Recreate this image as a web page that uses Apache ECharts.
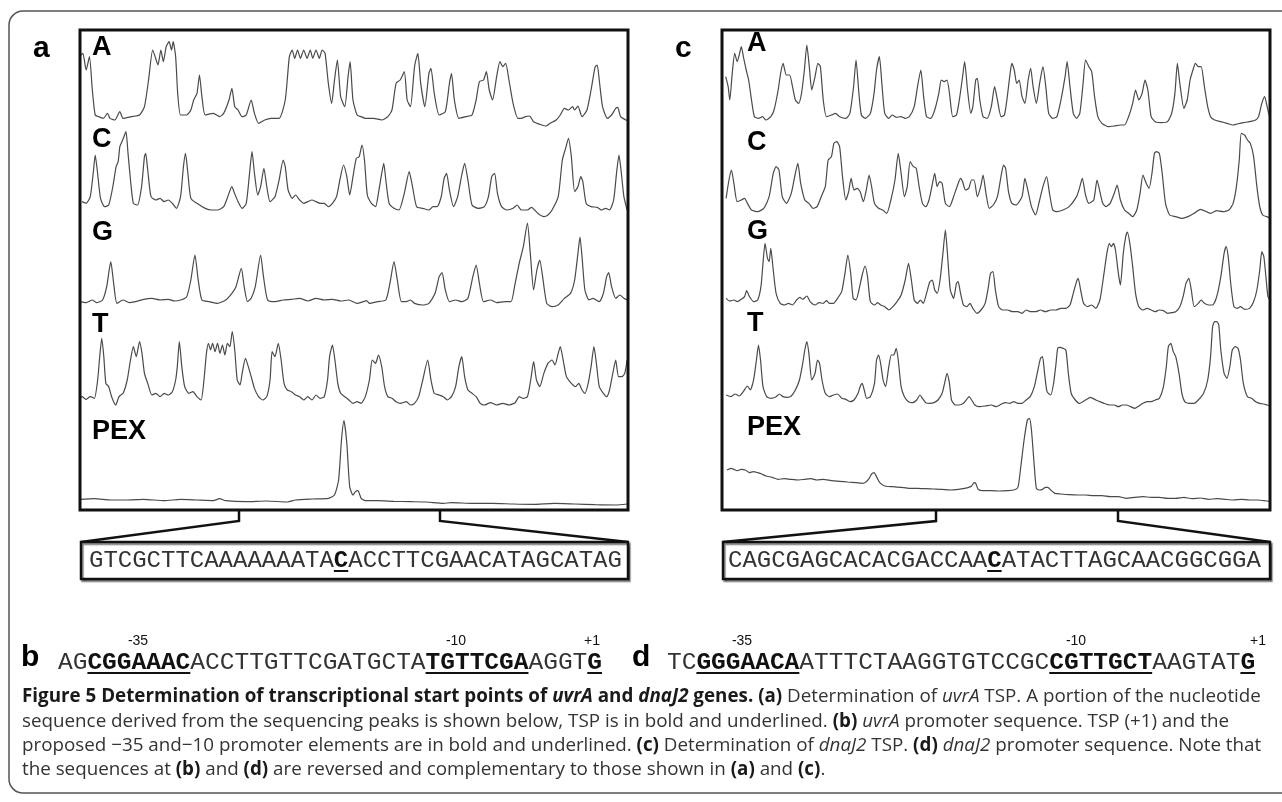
<!DOCTYPE html>
<html>
<head>
<meta charset="utf-8">
<script src="https://cdn.jsdelivr.net/npm/echarts@6.0.0/dist/echarts.min.js"></script>
<style>
  html, body { margin: 0; padding: 0; background: #fff; }
  #chart { width: 1282px; height: 802px; }
</style>
</head>
<body>
<div id="chart"></div>
<script>
// ---- sequencing traces, [scan, intensity] ----
// uvrA (panel a)
const uvrA_A = [[197,225],[202,230],[210,180],[218,220],[225,120],[232,45],[240,40],[252,35],[262,50],[268,35],[280,30],[292,55],[300,35],[320,40],[340,45],[352,70],[362,150],[372,240],[378,220],[385,195],[392,240],[398,205],[405,250],[412,265],[418,240],[422,265],[428,220],[433,110],[440,45],[455,45],[465,60],[472,90],[480,110],[486,165],[492,100],[500,45],[520,50],[535,40],[545,50],[558,90],[565,125],[572,70],[580,60],[590,40],[600,45],[612,90],[620,50],[630,20],[645,30],[660,35],[680,35],[695,90],[705,220],[712,240],[718,215],[725,240],[732,215],[740,240],[748,215],[756,240],[762,215],[770,240],[778,215],[785,240],[792,230],[800,140],[808,80],[815,150],[822,210],[830,100],[840,70],[848,160],[853,205],[860,90],[870,45],[880,40],[890,35],[910,35],[930,30],[945,40],[955,60],[965,140],[975,150],[985,175],[992,90],[1000,70],[1010,190],[1018,230],[1025,140],[1035,70],[1045,170],[1050,185],[1058,110],[1070,45],[1085,55],[1095,140],[1100,170],[1107,90],[1118,35],[1135,40],[1150,45],[1160,90],[1168,145],[1178,150],[1185,175],[1192,120],[1200,90],[1210,160],[1218,205],[1225,190],[1232,200],[1240,150],[1250,80],[1262,35],[1270,35],[1280,40],[1290,42],[1300,25],[1320,15],[1330,12],[1340,20],[1355,30],[1365,45],[1375,65],[1385,60],[1395,70],[1400,60],[1408,72],[1418,40],[1430,60],[1440,120],[1450,190],[1455,195],[1460,150],[1468,70],[1480,35],[1490,45],[1500,65],[1505,68],[1512,40],[1525,30],[1530,28]];
const uvrA_C = [[200,55],[210,50],[220,70],[228,150],[232,195],[237,150],[245,65],[255,40],[265,45],[275,100],[283,160],[288,175],[292,220],[297,235],[302,250],[307,265],[312,200],[318,120],[325,50],[335,45],[345,100],[352,190],[355,200],[360,150],[368,70],[380,60],[390,65],[400,55],[410,60],[420,50],[430,35],[440,70],[447,160],[452,200],[457,150],[465,65],[480,50],[500,35],[515,30],[530,30],[545,40],[555,70],[565,100],[570,85],[580,55],[590,35],[600,50],[608,140],[614,205],[620,140],[628,75],[635,100],[643,155],[650,100],[658,55],[670,70],[680,120],[690,180],[695,160],[702,90],[712,65],[720,75],[730,60],[740,50],[750,55],[760,60],[770,55],[780,50],[790,50],[800,40],[810,50],[820,70],[828,120],[837,165],[845,130],[852,75],[860,130],[868,185],[875,190],[882,225],[888,180],[895,75],[905,50],[915,40],[922,80],[930,140],[935,170],[940,120],[948,50],[960,35],[972,30],[985,80],[997,145],[1005,100],[1015,40],[1030,35],[1045,30],[1055,40],[1065,40],[1075,70],[1082,125],[1088,140],[1095,90],[1105,40],[1115,70],[1125,135],[1132,170],[1140,120],[1150,45],[1165,35],[1180,40],[1190,70],[1198,130],[1205,140],[1212,80],[1222,40],[1235,30],[1250,35],[1260,45],[1270,30],[1285,30],[1295,38],[1310,20],[1325,10],[1335,15],[1345,30],[1360,70],[1370,180],[1378,215],[1385,245],[1392,190],[1400,85],[1408,100],[1415,130],[1420,115],[1428,50],[1440,40],[1455,38],[1465,30],[1475,35],[1485,30],[1495,60],[1502,140],[1508,195],[1513,150],[1520,70],[1528,30]];
const uvrA_G = [[195,25],[210,22],[225,30],[235,22],[250,30],[260,70],[270,145],[277,80],[285,20],[300,30],[315,22],[330,25],[350,32],[370,35],[390,30],[410,32],[425,27],[440,30],[455,40],[465,90],[475,165],[483,90],[492,30],[510,25],[530,20],[550,30],[565,50],[575,70],[588,125],[595,70],[603,25],[612,35],[622,70],[635,165],[642,100],[652,30],[670,25],[690,30],[710,32],[730,35],[750,27],[770,35],[790,30],[810,32],[830,27],[850,30],[870,20],[885,25],[893,28],[900,20],[920,25],[940,30],[950,80],[960,145],[968,90],[978,25],[990,25],[1000,30],[1010,20],[1030,15],[1045,20],[1060,50],[1070,100],[1077,112],[1085,60],[1095,25],[1110,30],[1125,25],[1140,35],[1152,100],[1160,135],[1168,80],[1178,25],[1195,30],[1210,22],[1230,25],[1245,25],[1255,80],[1265,140],[1275,190],[1285,261],[1292,170],[1300,60],[1308,120],[1315,150],[1322,100],[1332,20],[1345,10],[1360,15],[1375,35],[1390,50],[1400,90],[1408,170],[1413,219],[1418,160],[1425,60],[1435,30],[1445,35],[1460,25],[1470,50],[1478,100],[1483,112],[1490,70],[1500,35],[1510,45],[1520,35],[1528,30]];
const uvrA_T = [[193,30],[200,40],[210,32],[220,40],[230,35],[238,90],[243,160],[248,215],[253,160],[258,80],[265,70],[272,40],[282,15],[290,40],[300,50],[310,90],[318,150],[325,190],[332,160],[340,205],[346,170],[352,110],[360,80],[370,45],[380,50],[390,40],[400,50],[410,45],[420,55],[428,90],[432,130],[437,205],[443,130],[450,70],[460,50],[470,55],[480,40],[490,30],[497,90],[503,170],[508,200],[513,180],[518,200],[524,175],[530,200],[536,170],[542,195],[548,165],[554,200],[560,190],[566,235],[572,180],[578,90],[585,75],[590,110],[598,155],[605,130],[612,100],[620,65],[630,40],[640,30],[650,40],[658,90],[663,175],[670,160],[678,200],[685,150],[692,80],[700,60],[710,55],[720,45],[730,40],[740,30],[750,40],[760,30],[770,45],[780,35],[790,40],[798,90],[803,160],[810,195],[816,150],[823,80],[830,50],[840,40],[850,30],[860,20],[870,25],[880,20],[890,40],[900,90],[907,150],[915,140],[922,165],[930,130],[937,70],[945,40],[955,35],[965,25],[975,20],[990,25],[1000,15],[1010,20],[1020,40],[1030,90],[1042,150],[1050,90],[1058,50],[1070,45],[1080,40],[1090,30],[1100,40],[1110,70],[1118,130],[1125,160],[1132,100],[1140,60],[1150,50],[1160,40],[1170,20],[1180,15],[1195,22],[1210,15],[1225,20],[1240,15],[1255,22],[1265,40],[1275,35],[1285,40],[1293,90],[1300,145],[1307,90],[1315,70],[1325,110],[1335,140],[1345,150],[1352,135],[1360,170],[1365,190],[1372,150],[1380,100],[1392,80],[1402,70],[1410,80],[1418,60],[1425,50],[1433,80],[1440,130],[1447,190],[1453,140],[1460,70],[1470,50],[1478,40],[1485,60],[1493,110],[1500,150],[1507,100],[1515,100],[1522,110],[1528,150]];
const uvrA_PEX = [[195,32],[230,34],[270,30],[310,30],[350,32],[400,28],[440,32],[480,30],[520,28],[535,34],[550,28],[600,25],[650,27],[700,24],[720,30],[760,33],[800,35],[815,45],[825,90],[832,210],[838,268],[845,200],[852,70],[860,45],[866,55],[872,58],[880,35],[890,28],[920,28],[960,26],[1000,25],[1040,24],[1080,20],[1100,22],[1150,20],[1200,20],[1250,18],[1300,17],[1350,20],[1400,18],[1450,16],[1500,15],[1528,18]];

// dnaJ2 (panel c)
const dnaJ2_A = [[212,160],[218,130],[222,90],[228,170],[234,230],[240,205],[246,230],[250,250],[256,215],[262,180],[268,150],[275,90],[282,40],[292,35],[302,40],[310,30],[322,40],[330,60],[340,120],[346,170],[352,200],[360,165],[368,165],[375,130],[382,90],[390,80],[397,110],[404,180],[410,255],[416,190],[422,120],[430,160],[437,200],[443,190],[450,90],[458,40],[470,45],[480,50],[490,40],[505,35],[515,50],[524,130],[530,210],[537,110],[543,45],[552,35],[565,50],[574,110],[580,180],[587,220],[593,140],[600,50],[610,35],[618,45],[628,38],[640,40],[650,35],[660,40],[672,70],[680,130],[688,180],[695,100],[702,40],[712,35],[722,60],[732,110],[738,150],[745,145],[752,150],[758,110],[766,40],[775,45],[782,90],[790,160],[795,205],[802,120],[810,50],[815,70],[822,150],[826,155],[832,90],[840,40],[850,35],[860,70],[868,130],[875,90],[884,40],[892,45],[898,90],[905,160],[910,200],[916,180],[922,140],[928,150],[935,100],[942,80],[950,150],[956,185],[962,130],[970,80],[978,140],[986,190],[993,130],[1000,50],[1010,35],[1020,40],[1030,90],[1040,160],[1045,205],[1052,130],[1060,50],[1068,35],[1076,50],[1084,140],[1090,210],[1098,190],[1105,175],[1112,100],[1120,40],[1130,20],[1145,10],[1160,12],[1175,15],[1185,15],[1195,40],[1205,80],[1212,120],[1220,90],[1228,110],[1235,150],[1242,120],[1250,40],[1260,25],[1275,22],[1290,25],[1300,50],[1308,110],[1314,200],[1320,140],[1330,65],[1338,90],[1345,150],[1352,180],[1358,200],[1365,190],[1372,190],[1380,130],[1388,70],[1395,40],[1405,30],[1420,25],[1435,20],[1450,15],[1460,18],[1475,22],[1490,25],[1505,30],[1512,40],[1520,80],[1527,100],[1533,70],[1540,35]];
const dnaJ2_C = [[213,65],[220,120],[226,150],[232,110],[240,55],[250,60],[258,65],[265,50],[275,30],[290,25],[305,35],[318,70],[328,140],[335,160],[342,150],[350,70],[360,50],[372,80],[382,140],[388,170],[395,110],[405,60],[415,50],[425,35],[435,40],[445,70],[455,100],[462,180],[470,190],[476,230],[483,235],[490,220],[497,130],[505,60],[512,85],[518,125],[525,90],[533,95],[540,85],[548,55],[555,90],[562,135],[568,100],[575,50],[585,35],[595,30],[605,20],[615,60],[625,120],[633,200],[640,140],[648,70],[655,100],[662,175],[670,160],[677,155],[684,100],[692,50],[700,40],[708,60],[715,100],[722,140],[728,100],[734,115],[740,110],[748,50],[758,40],[768,70],[778,105],[785,125],[790,115],[797,90],[805,95],[812,120],[818,120],[826,70],[834,100],[840,135],[847,80],[855,35],[865,45],[875,70],[885,140],[890,165],[895,155],[902,85],[910,50],[920,45],[935,70],[942,125],[950,85],[958,40],[968,15],[978,60],[986,100],[995,130],[1002,80],[1010,30],[1020,25],[1035,30],[1050,40],[1068,70],[1075,95],[1082,125],[1090,75],[1098,50],[1110,60],[1118,120],[1125,85],[1132,50],[1140,40],[1150,50],[1160,80],[1167,105],[1175,60],[1185,30],[1195,20],[1205,10],[1215,30],[1223,80],[1230,135],[1238,110],[1245,95],[1252,140],[1258,200],[1263,205],[1270,200],[1277,140],[1285,50],[1295,15],[1310,10],[1325,5],[1340,10],[1355,20],[1370,32],[1385,25],[1395,20],[1410,28],[1425,25],[1440,30],[1450,50],[1458,100],[1465,180],[1470,260],[1478,255],[1485,240],[1492,230],[1500,190],[1508,100],[1515,40],[1522,15],[1532,10],[1540,5]];
const dnaJ2_G = [[213,50],[222,42],[232,45],[240,40],[250,47],[258,55],[263,73],[270,55],[280,40],[290,45],[298,85],[303,155],[308,215],[314,170],[318,160],[322,200],[328,135],[335,65],[345,35],[355,30],[365,35],[375,30],[385,45],[393,53],[400,47],[410,57],[418,40],[430,30],[440,37],[450,35],[458,43],[465,35],[475,35],[485,50],[495,70],[503,125],[510,180],[517,125],[523,50],[530,45],[538,80],[545,120],[552,147],[558,115],[565,40],[575,30],[583,37],[590,30],[600,25],[610,15],[620,25],[630,40],[640,60],[650,105],[658,155],[665,105],[672,45],[680,35],[687,45],[694,35],[702,65],[710,100],[716,105],[722,75],[728,65],[735,105],[742,185],[748,255],[753,185],[760,75],[768,50],[775,95],[779,100],[785,65],[792,30],[800,25],[808,35],[815,20],[825,5],[835,15],[845,35],[853,85],[858,125],[864,130],[870,75],[878,25],[888,15],[900,15],[912,10],[925,10],[935,5],[945,15],[955,10],[968,10],[980,15],[992,10],[1005,15],[1018,15],[1030,20],[1042,20],[1052,30],[1060,65],[1068,100],[1072,110],[1078,75],[1085,35],[1095,25],[1105,30],[1115,20],[1125,45],[1135,125],[1142,185],[1148,215],[1153,205],[1158,215],[1163,195],[1170,125],[1175,90],[1182,185],[1188,235],[1192,249],[1198,215],[1205,145],[1212,65],[1220,25],[1230,15],[1240,20],[1250,15],[1260,10],[1270,15],[1280,13],[1290,5],[1300,7],[1310,10],[1320,25],[1328,55],[1335,95],[1342,110],[1348,75],[1355,25],[1365,35],[1372,45],[1380,35],[1390,30],[1400,30],[1410,55],[1420,115],[1428,185],[1433,205],[1438,175],[1445,85],[1452,25],[1460,20],[1468,25],[1478,17],[1490,20],[1500,40],[1508,75],[1515,135],[1520,190],[1525,175],[1530,115],[1535,55],[1540,45]];
const dnaJ2_T = [[213,45],[225,40],[235,48],[245,42],[255,55],[265,72],[272,60],[280,90],[287,150],[292,195],[297,150],[303,70],[312,40],[322,35],[335,40],[343,48],[352,40],[362,38],[372,42],[382,60],[392,90],[400,140],[405,180],[410,205],[415,170],[422,90],[430,110],[436,150],[441,140],[447,90],[455,50],[465,40],[475,45],[485,48],[495,35],[505,32],[515,25],[525,30],[535,50],[540,70],[545,80],[550,60],[556,35],[565,40],[575,80],[580,150],[585,165],[590,140],[596,90],[602,70],[610,130],[616,165],[622,165],[628,185],[633,150],[640,70],[648,40],[658,25],[668,22],[678,30],[686,45],[692,35],[700,22],[710,20],[720,22],[730,30],[740,50],[746,80],[752,110],[758,80],[763,30],[772,15],[782,15],[792,20],[800,32],[806,40],[812,30],[820,15],[830,10],[845,12],[860,15],[872,10],[885,18],[895,22],[905,20],[915,25],[925,20],[935,20],[945,30],[955,40],[965,70],[972,110],[980,155],[985,160],[990,110],[996,55],[1005,45],[1012,80],[1018,140],[1022,185],[1028,188],[1035,185],[1042,180],[1048,110],[1055,50],[1065,30],[1075,20],[1090,30],[1102,38],[1115,30],[1125,25],[1135,20],[1150,15],[1160,15],[1170,10],[1180,15],[1190,15],[1200,10],[1210,5],[1220,12],[1230,20],[1240,25],[1250,25],[1260,30],[1270,35],[1280,70],[1287,130],[1292,190],[1298,200],[1304,175],[1310,160],[1318,110],[1325,50],[1332,25],[1342,20],[1355,20],[1365,30],[1378,50],[1388,90],[1395,160],[1400,250],[1405,265],[1410,265],[1415,255],[1420,180],[1428,110],[1435,95],[1442,130],[1448,180],[1455,190],[1462,185],[1468,150],[1475,80],[1485,40],[1495,35],[1505,25],[1515,20],[1525,18],[1533,15],[1540,13]];
const dnaJ2_PEX = [[215,120],[225,125],[232,122],[240,118],[250,122],[260,120],[270,112],[280,115],[290,112],[300,108],[310,102],[325,98],[340,92],[355,94],[370,92],[390,90],[405,92],[420,94],[435,90],[450,92],[470,88],[490,86],[510,84],[530,82],[545,80],[555,85],[562,95],[568,108],[574,112],[580,100],[588,82],[600,72],[620,70],[640,68],[660,65],[680,65],[700,64],[720,63],[740,62],[760,60],[780,62],[795,65],[805,68],[812,72],[818,82],[822,80],[828,62],[840,58],[860,58],[880,57],[900,58],[915,60],[925,68],[932,130],[940,210],[948,270],[953,275],[958,240],[965,130],[970,65],[978,60],[985,62],[992,68],[998,68],[1005,60],[1015,50],[1030,48],[1050,46],[1070,45],[1090,45],[1110,43],[1130,43],[1150,40],[1170,40],[1190,35],[1210,38],[1230,40],[1250,38],[1270,38],[1290,35],[1310,35],[1330,38],[1350,34],[1370,36],[1390,32],[1410,34],[1430,32],[1450,30],[1470,32],[1490,30],[1510,30],[1525,28],[1540,26]];

const lanes = ['A', 'C', 'G', 'T', 'PEX'];

// sequences
const uvrA_read = ['GTCGCTTCAAAAAAATA', 'C', 'ACCTTCGAACATAGCATAG'];
const dnaJ2_read = ['CAGCGAGCACACGACCAA', 'C', 'ATACTTAGCAACGGCGGA'];
const uvrA_promoter = [['AG', ''], ['CGGAAAC', 'bu'], ['ACCTTGTTCGATGCTA', ''], ['TGTTCGA', 'bu'], ['AGGT', ''], ['G', 'bu']];
const dnaJ2_promoter = [['TC', ''], ['GGGAACA', 'bu'], ['ATTTCTAAGGTGTCCGC', ''], ['CGTTGCT', 'bu'], ['AAGTAT', ''], ['G', 'bu']];
const promoterMarks = ['-35', '-10', '+1'];

const caption = [
  [['Figure 5 Determination of transcriptional start points of ', 'b'], ['uvrA', 'bi'], [' and ', 'b'], ['dnaJ2', 'bi'], [' genes.', 'b'], [' ', ''], ['(a)', 'b'], [' Determination of ', ''], ['uvrA', 'i'], [' TSP. A portion of the nucleotide', '']],
  [['sequence derived from the sequencing peaks is shown below, TSP is in bold and underlined. ', ''], ['(b)', 'b'], [' ', ''], ['uvrA', 'i'], [' promoter sequence. TSP (+1) and the', '']],
  [['proposed \u221235 and\u221210 promoter elements are in bold and underlined. ', ''], ['(c)', 'b'], [' Determination of ', ''], ['dnaJ2', 'i'], [' TSP. ', ''], ['(d)', 'b'], [' ', ''], ['dnaJ2', 'i'], [' promoter sequence. Note that', '']],
  [['the sequences at ', ''], ['(b)', 'b'], [' and ', ''], ['(d)', 'b'], [' are reversed and complementary to those shown in ', ''], ['(a)', 'b'], [' and ', ''], ['(c)', 'b'], ['.', '']]
];

// ---- layout ----
const BOX_TOP = 30, BOX_H = 480, BOX_W = 548;
const UNITS = 3; // intensity units per pixel
const panels = [
  { letter: 'a', left: 80, scan: [195, 1530], traces: [uvrA_A, uvrA_C, uvrA_G, uvrA_T, uvrA_PEX],
    baselines: [130, 220, 310, 410, 510], labelX: 92, labelY: [48, 140, 233, 325, 432],
    zoom: [239, 440], read: uvrA_read, readX: 89 },
  { letter: 'c', left: 722, scan: [203, 1540], traces: [dnaJ2_A, dnaJ2_C, dnaJ2_G, dnaJ2_T, dnaJ2_PEX],
    baselines: [130, 220, 315, 410, 510], labelX: 747, labelY: [44, 143, 232, 324, 428],
    zoom: [936, 1118], read: dnaJ2_read, readX: 728 }
];

const SANS = '"Liberation Sans", Arial, sans-serif';
const MONO = '"Liberation Mono", "Courier New", monospace';
const CAP = '"Open Sans", sans-serif';

const ctx = document.createElement('canvas').getContext('2d');
function textWidth(str, font) { ctx.font = font; return ctx.measureText(str).width; }
function fontOf(flags, size, family) {
  return (flags.includes('i') ? 'italic ' : '') + (flags.includes('b') ? 'bold ' : '') + size + 'px ' + family;
}

// text made of styled runs: flags b=bold, i=italic, u=underline
function runs(x, y, parts, family, size, opt) {
  const els = [];
  parts.forEach(([t, f]) => {
    const font = fontOf(f, size, family);
    els.push({ type: 'text', silent: true, style: {
      x: x, y: y, text: t, font: font, fill: f.includes('b') ? opt.bold : opt.fill,
      textVerticalAlign: 'middle', verticalAlign: 'middle' } });
    const w = textWidth(t, font);
    if (f.includes('u')) {
      els.push({ type: 'line', silent: true, shape: { x1: x, y1: y + opt.ul, x2: x + w, y2: y + opt.ul },
        style: { stroke: '#111', lineWidth: 2 } });
    }
    x += w;
  });
  return els;
}

const grids = [], xAxes = [], yAxes = [], series = [], graphics = [];

panels.forEach((p) => {
  p.traces.forEach((tr, i) => {
    const idx = grids.length;
    const base = p.baselines[i];
    grids.push({ left: p.left, top: BOX_TOP, width: BOX_W, height: BOX_H });
    xAxes.push({ type: 'value', gridIndex: idx, min: p.scan[0], max: p.scan[1], show: false });
    yAxes.push({ type: 'value', gridIndex: idx, show: false,
      min: UNITS * (base - BOX_TOP - BOX_H), max: UNITS * (base - BOX_TOP) });
    series.push({ type: 'line', name: p.letter + ' ' + lanes[i], xAxisIndex: idx, yAxisIndex: idx,
      data: tr, showSymbol: false, smooth: 0.2, silent: true,
      lineStyle: { color: '#4a4a4a', width: 1.2 } });
    graphics.push({ type: 'text', silent: true, style: { x: p.labelX, y: p.labelY[i], text: lanes[i],
      font: 'bold 27px ' + SANS, fill: '#000', textVerticalAlign: 'middle', verticalAlign: 'middle' } });
  });

  const right = p.left + BOX_W;
  // panel letter
  graphics.push({ type: 'text', silent: true, style: { x: p.left - 47, y: 49, text: p.letter,
    font: 'bold 30px ' + SANS, fill: '#000', textVerticalAlign: 'middle', verticalAlign: 'middle' } });
  // trace box
  graphics.push({ type: 'rect', silent: true, z: 10, shape: { x: p.left, y: BOX_TOP, width: BOX_W, height: BOX_H },
    style: { fill: 'none', stroke: '#111', lineWidth: 3 } });
  // zoom connectors
  graphics.push({ type: 'polyline', silent: true, shape: { points: [[p.zoom[0], BOX_TOP + BOX_H], [p.zoom[0], 521], [p.left + 1, 542]] },
    style: { fill: 'none', stroke: '#111', lineWidth: 2.5 } });
  graphics.push({ type: 'polyline', silent: true, shape: { points: [[p.zoom[1], BOX_TOP + BOX_H], [p.zoom[1], 521], [right, 542]] },
    style: { fill: 'none', stroke: '#111', lineWidth: 2.5 } });
  // read sequence box
  graphics.push({ type: 'rect', silent: true, shape: { x: p.left + 1, y: 542, width: BOX_W - 1, height: 37 },
    style: { fill: '#fff', stroke: '#111', lineWidth: 2.5, shadowColor: 'rgba(0,0,0,0.45)', shadowOffsetX: 1.5, shadowOffsetY: 2, shadowBlur: 1 } });
  graphics.push(...runs(p.readX, 561, [[p.read[0], ''], [p.read[1], 'bu'], [p.read[2], '']], MONO, 24,
    { fill: '#333', bold: '#111', ul: 10 }));
});

// promoter rows b / d
const promoters = [
  { letter: 'b', x: 21, seqX: 58, parts: uvrA_promoter, marks: [138, 456, 592] },
  { letter: 'd', x: 632, seqX: 667, parts: dnaJ2_promoter, marks: [742, 1076, 1258] }
];
promoters.forEach((r) => {
  graphics.push({ type: 'text', silent: true, style: { x: r.x, y: 658, text: r.letter,
    font: 'bold 30px ' + SANS, fill: '#000', textVerticalAlign: 'middle', verticalAlign: 'middle' } });
  graphics.push(...runs(r.seqX, 663, r.parts, MONO, 24.5, { fill: '#333', bold: '#111', ul: 10 }));
  promoterMarks.forEach((m, k) => {
    graphics.push({ type: 'text', silent: true, style: { x: r.marks[k], y: 641, text: m,
      font: '14px ' + SANS, fill: '#111', textAlign: 'center', align: 'center',
      textVerticalAlign: 'middle', verticalAlign: 'middle' } });
  });
});

// caption, size fitted so the widest full line spans the figure width
const lineW = (line, size) => line.reduce((s, [t, f]) => s + textWidth(t, fontOf(f, size, CAP)), 0);
const widest = Math.max(lineW(caption[0], 16), lineW(caption[1], 16), lineW(caption[2], 16));
const capSize = 16 * 1240 / widest;
caption.forEach((line, k) => {
  graphics.push(...runs(22, 697 + k * 24.3, line, CAP, capSize, { fill: '#333', bold: '#1a1a1a', ul: 0 }));
});

// outer frame
graphics.push({ type: 'rect', silent: true, shape: { x: 9, y: 11, width: 1300, height: 782, r: 14 },
  style: { fill: 'none', stroke: '#555', lineWidth: 1.5 } });

const chart = echarts.init(document.getElementById('chart'));
chart.setOption({
  animation: false,
  backgroundColor: '#fff',
  grid: grids,
  xAxis: xAxes,
  yAxis: yAxes,
  series: series,
  graphic: { elements: graphics }
});
</script>
</body>
</html>
